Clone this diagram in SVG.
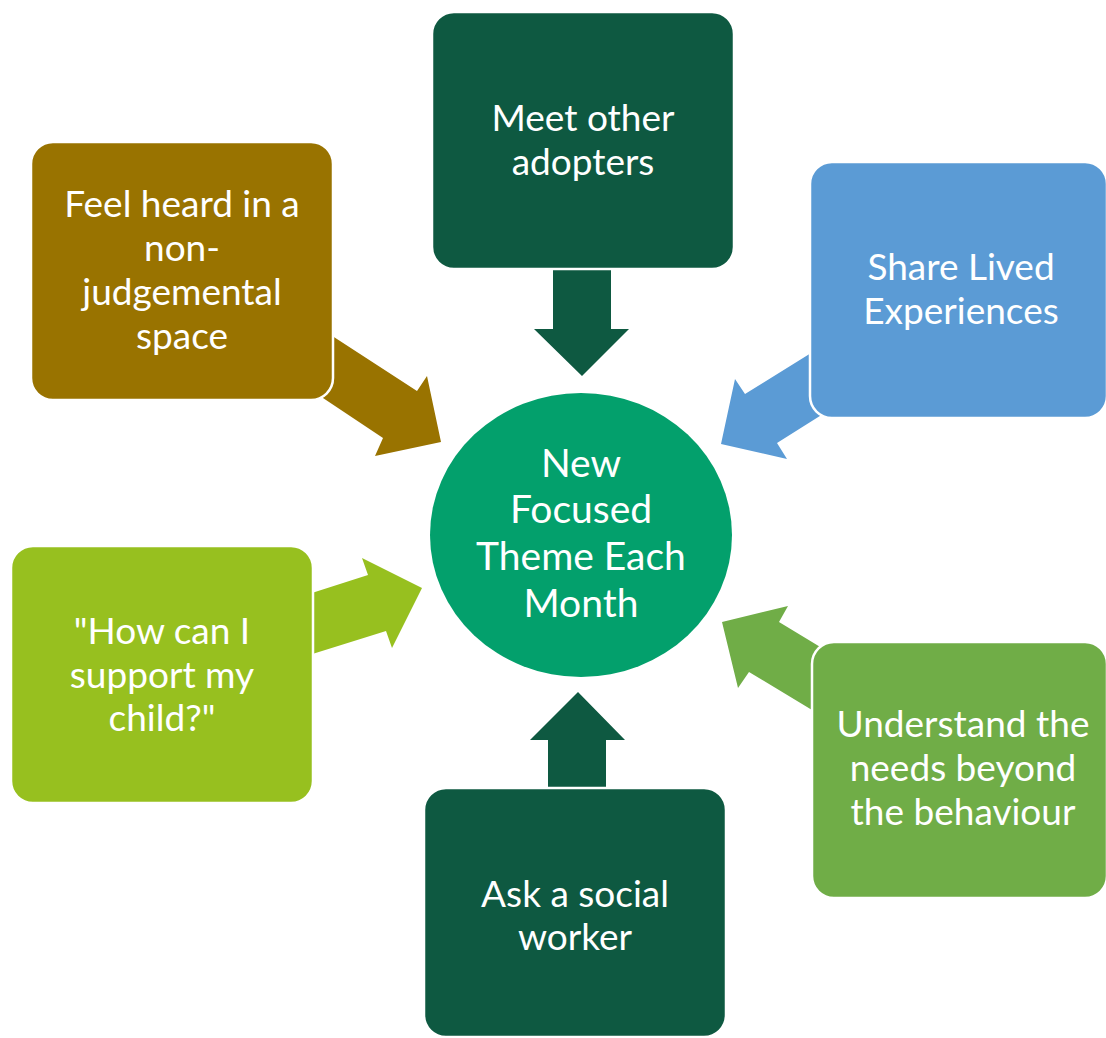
<svg xmlns="http://www.w3.org/2000/svg" width="1106" height="1038" viewBox="0 0 1106 1038">
<style>
.box{stroke:#ffffff;stroke-width:2.5}
.t{font-family:Lato,"Open Sans","Liberation Sans",sans-serif;font-size:37px;fill:#ffffff;text-anchor:middle}
.tc{font-size:39px}
</style>
<rect width="1106" height="1038" fill="#ffffff"/>
<g id="connectors">
<polygon fill="#997300" points="300,315 417,391 427,376 441,442 375,456 383,438 290,376"/>
<polygon fill="#0E5941" points="553,250 611,250 611,329 629,329 582,376 534,329 553,329"/>
<polygon fill="#5B9BD5" points="840,335 745,394 735,379 721,444 787,459 777,443 850,397"/>
<polygon fill="#97C01F" points="290,600 368,575 362,558 422,588 392,648 386,631 290,661"/>
<polygon fill="#70AD47" points="722,622 788,606 779,622 850,665 850,733 749,672 738,688"/>
<polygon fill="#0E5941" points="578,692 625,740 606,740 606,800 548,800 548,740 530,740"/>
</g>
<g id="center">
<ellipse cx="581" cy="535" rx="151" ry="142" fill="#03A06C"/>
<text class="t tc" x="581" y="477">New</text>
<text class="t tc" x="581" y="523">Focused</text>
<text class="t tc" x="581" y="570">Theme Each</text>
<text class="t tc" x="581" y="617">Month</text>
</g>
<g id="n-meet">
<rect class="box" x="432" y="12" width="302" height="257" rx="22" fill="#0E5941"/>
<text class="t" x="583" y="131">Meet other</text>
<text class="t" x="583" y="175">adopters</text>
</g>
<g id="n-feel">
<rect class="box" x="31" y="142" width="302" height="258" rx="22" fill="#997300"/>
<text class="t" x="182" y="217">Feel heard in a</text>
<text class="t" x="182" y="261">non-</text>
<text class="t" x="182" y="305">judgemental</text>
<text class="t" x="182" y="349">space</text>
</g>
<g id="n-share">
<rect class="box" x="810" y="162" width="297" height="256" rx="22" fill="#5B9BD5"/>
<text class="t" x="961" y="280">Share Lived</text>
<text class="t" x="961" y="324">Experiences</text>
</g>
<g id="n-how">
<rect class="box" x="11" y="546" width="302" height="257" rx="22" fill="#97C01F"/>
<text class="t" x="162" y="644">"How can I</text>
<text class="t" x="162" y="688">support my</text>
<text class="t" x="162" y="731">child?"</text>
</g>
<g id="n-understand">
<rect class="box" x="812" y="642" width="295" height="256" rx="22" fill="#70AD47"/>
<text class="t" x="963" y="737">Understand the</text>
<text class="t" x="963" y="781">needs beyond</text>
<text class="t" x="963" y="825">the behaviour</text>
</g>
<g id="n-ask">
<rect class="box" x="424" y="788" width="302" height="249" rx="22" fill="#0E5941"/>
<text class="t" x="575" y="907">Ask a social</text>
<text class="t" x="575" y="950">worker</text>
</g>
</svg>
